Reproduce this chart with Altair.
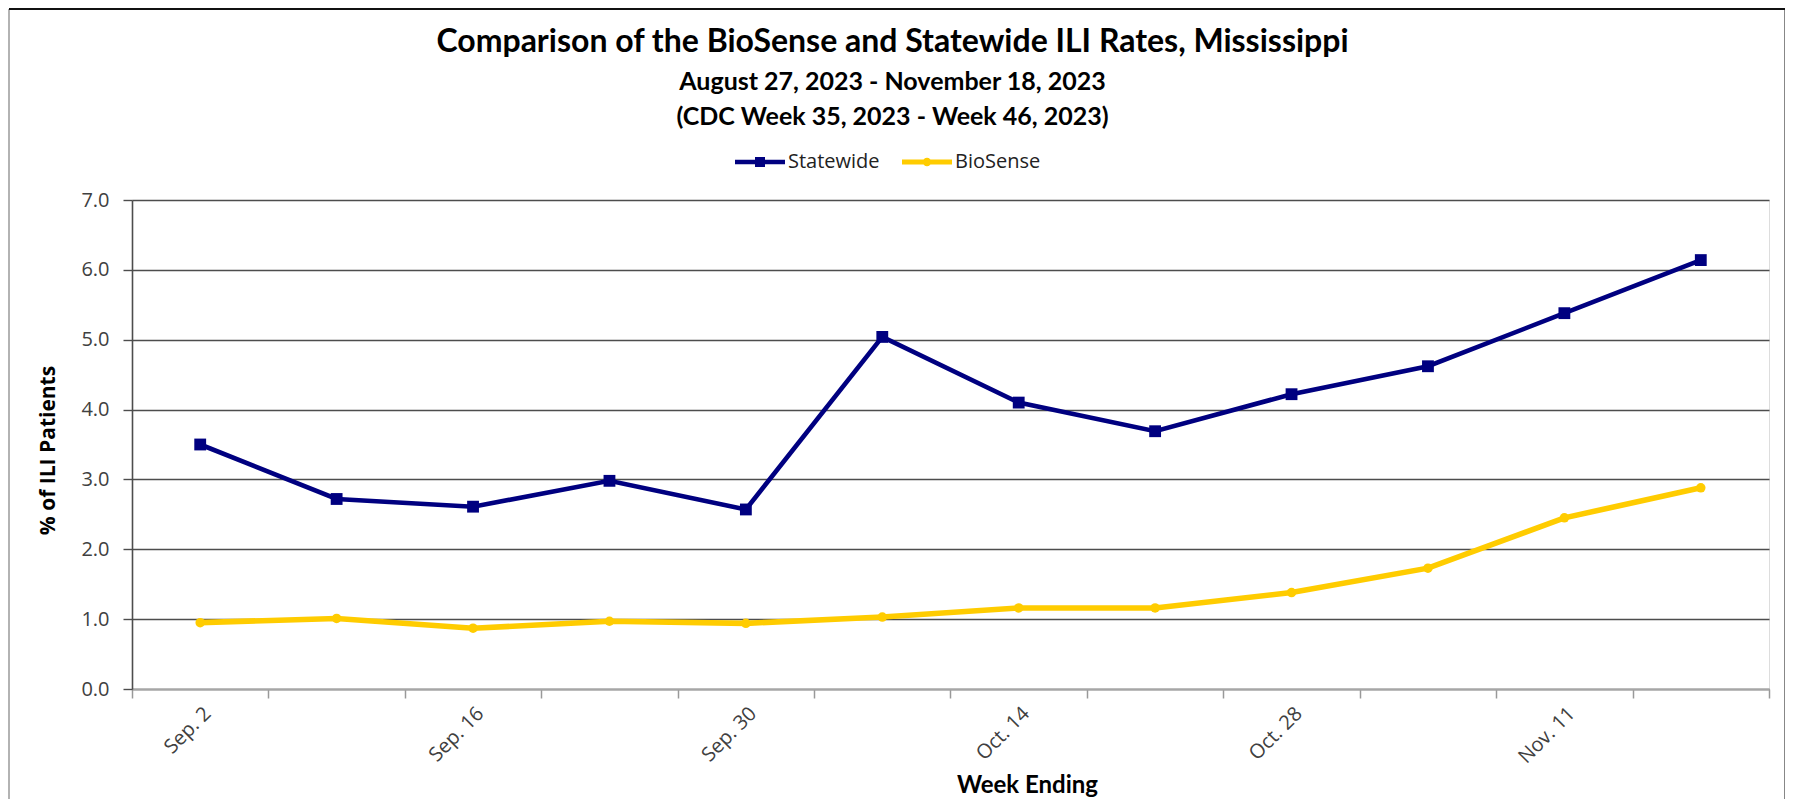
import altair as alt
import pandas as pd

weeks = ["Sep. 2", "Sep. 9", "Sep. 16", "Sep. 23", "Sep. 30", "Oct. 7",
         "Oct. 14", "Oct. 21", "Oct. 28", "Nov. 4", "Nov. 11", "Nov. 18"]
shown_labels = ["Sep. 2", "Sep. 16", "Sep. 30", "Oct. 14", "Oct. 28", "Nov. 11"]
statewide = [3.50, 2.72, 2.61, 2.98, 2.57, 5.04, 4.10, 3.69, 4.22, 4.62, 5.38, 6.14]
biosense = [0.95, 1.01, 0.87, 0.97, 0.94, 1.03, 1.16, 1.16, 1.38, 1.73, 2.45, 2.88]
series_names = ["Statewide", "BioSense"]
series_colors = ["#000080", "#FFCC00"]
y_ticks = [0, 1, 2, 3, 4, 5, 6, 7]

rows = []
for w, v in zip(weeks, statewide):
    rows.append({"week": w, "series": "Statewide", "value": v})
for w, v in zip(weeks, biosense):
    rows.append({"week": w, "series": "BioSense", "value": v})
df = pd.DataFrame(rows)

label_list = ",".join("'" + s + "'" for s in shown_labels)
label_expr = f"indexof([{label_list}], datum.value) >= 0 ? datum.value : ''"

x_enc = alt.X(
    "week:N", sort=weeks,
    scale=alt.Scale(type="band", paddingInner=0, paddingOuter=0),
    axis=alt.Axis(
        title="Week Ending", labelExpr=label_expr, labelAngle=-45,
        tickBand="extent", grid=False, ticks=True, tickSize=9,
        tickColor="#999999", tickWidth=1.5,
        domainColor="#a6a6a6", domainWidth=2,
        labelFont="Open Sans", labelFontSize=20, labelColor="#404040",
        labelPadding=5,
        titleFont="Lato", titleFontSize=24, titleFontWeight="bold", titleColor="#000000",
        titleX=895, titleY=96, titleBaseline="middle", titleAnchor="start", titleAlign="center",
    ),
)
y_enc = alt.Y(
    "value:Q",
    scale=alt.Scale(domain=[0, 7], nice=False, zero=True),
    axis=alt.Axis(
        title="% of ILI Patients", values=y_ticks, format=".1f",
        grid=True, gridColor="#4d4d4d", gridWidth=1.4,
        tickSize=9, tickColor="#4d4d4d", tickWidth=1.4,
        domainColor="#4d4d4d", domainWidth=1.6,
        labelFont="Open Sans", labelFontSize=20, labelColor="#404040", labelPadding=14,
        titleFont="Open Sans", titleFontSize=21, titleFontWeight="bold", titleColor="#000000",
        titleX=-84, titleY=250, titleBaseline="middle", titleAngle=-90, titleAlign="center",
    ),
)

color_scale = alt.Scale(domain=series_names, range=series_colors)

lines = alt.Chart(df).mark_line().encode(
    x=x_enc, y=y_enc,
    color=alt.Color("series:N", scale=color_scale, legend=None),
    strokeWidth=alt.StrokeWidth("series:N", scale=alt.Scale(domain=series_names, range=[4.6, 5.6]), legend=None),
)

points = alt.Chart(df).mark_point(filled=True, opacity=1).encode(
    x=x_enc, y=y_enc,
    color=alt.Color("series:N", scale=color_scale, legend=None),
    shape=alt.Shape("series:N", scale=alt.Scale(domain=series_names, range=["square", "circle"]), legend=None),
    size=alt.Size("series:N", scale=alt.Scale(domain=series_names, range=[140, 90]), legend=None),
)

sq_path = "M-1,-0.09H1V0.09H-1Z M-0.2,-0.2H0.2V0.2H-0.2Z"
ci_path = "M-1,-0.1H1V0.1H-1Z M0.17,0 A0.17,0.17 0 1,1 -0.17,0 A0.17,0.17 0 1,1 0.17,0Z"

legend_props = dict(
    title=None, orient="none", direction="horizontal",
    legendX=603, legendY=-63, padding=0,
    symbolSize=2500, symbolStrokeWidth=0, symbolOpacity=1,
    labelFont="Open Sans", labelFontSize=20, labelColor="#222222",
    labelOffset=3, columnPadding=22,
)

legend_layer = alt.Chart(df).transform_filter("false").mark_point(filled=True, opacity=1).encode(
    color=alt.Color("series:N", scale=color_scale, legend=alt.Legend(**legend_props)),
    shape=alt.Shape(
        "series:N", scale=alt.Scale(domain=series_names, range=[sq_path, ci_path]),
        legend=alt.Legend(**legend_props),
    ),
)

frame_data = alt.Data(values=[{"k": 1}])
frame_left = alt.Chart(frame_data).mark_rule(color="#9a9a9a", strokeWidth=1.5).encode(
    x=alt.value(-123), y=alt.value(-191), y2=alt.value(610))
frame_top = alt.Chart(frame_data).mark_rule(color="#111111", strokeWidth=2).encode(
    x=alt.value(-123), x2=alt.value(1655), y=alt.value(-191))
frame_right = alt.Chart(frame_data).mark_rule(color="#111111", strokeWidth=3).encode(
    x=alt.value(1654), y=alt.value(-191), y2=alt.value(610))

chart = alt.layer(lines, points, legend_layer, frame_left, frame_top, frame_right).resolve_scale(
    color="independent", shape="independent", size="independent", strokeWidth="independent"
).properties(
    width=1637, height=489,
    autosize=alt.AutoSizeParams(type="none"),
    padding={"left": 124, "top": 192, "right": 16, "bottom": 110},
    title=alt.TitleParams(
        text="Comparison of the BioSense and Statewide ILI Rates, Mississippi",
        subtitle=["August 27, 2023 - November 18, 2023", "(CDC Week 35, 2023 - Week 46, 2023)"],
        font="Lato", fontSize=32, fontWeight="bold", color="#000000",
        subtitleFont="Lato", subtitleFontSize=25, subtitleFontWeight="bold", subtitleColor="#000000",
        subtitleLineHeight=35, subtitlePadding=11,
        anchor="middle", dx=-58, offset=-123,
    ),
).configure_view(
    stroke="#7a7a7a", strokeWidth=1.2
).configure(background="white")

chart.save("out.html", embed_options={"renderer": "svg", "actions": False})
